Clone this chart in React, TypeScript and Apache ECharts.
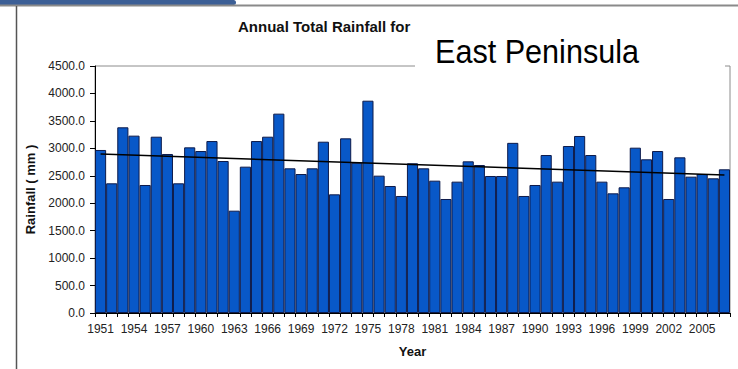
import React, { useEffect, useRef } from "react";
import * as echarts from "echarts";

const years: string[] = [];
for (let y = 1951; y <= 2007; y++) years.push(String(y));

const rainfall: number[] = [
  2970, 2363, 3383, 3231, 2332, 3212, 2897, 2363, 3018, 2951,
  3133, 2769, 1864, 2666, 3133, 3212, 3632, 2636, 2532, 2636,
  3121, 2162, 3182, 2739, 3868, 2502, 2314, 2132, 2727, 2636,
  2411, 2077, 2393, 2763, 2696, 2496, 2496, 3100, 2132, 2332,
  2878, 2393, 3042, 3225, 2878, 2393, 2180, 2290, 3012, 2800,
  2951, 2077, 2836, 2484, 2532, 2454, 2618,
];

const trendStart = 2897;
const trendEnd = 2515;

const yTicks = { min: 0, max: 4500, interval: 500 };

const titleText = "Annual Total Rainfall for";
const regionText = "East Peninsula";
const yTitle = "Rainfall ( mm )";
const xTitle = "Year";

const FONT = "'Liberation Sans', Arial, sans-serif";

export default function App() {
  const ref = useRef<HTMLDivElement>(null);
  useEffect(() => {
    if (!ref.current) return;
    const chart = echarts.init(ref.current, undefined, { renderer: "svg" });
    const trend = years.map((_, i) =>
      i === 0 ? trendStart : i === years.length - 1 ? trendEnd : null
    );
    chart.setOption({
      animation: false,
      backgroundColor: "#ffffff",
      textStyle: { fontFamily: FONT },
      grid: {
        left: 95,
        right: 8,
        top: 66,
        bottom: 56,
        containLabel: false,
        show: true,
        borderColor: "#8c8c8c",
        borderWidth: 1,
        backgroundColor: "transparent",
      },
      xAxis: {
        type: "category",
        data: years,
        boundaryGap: true,
        name: xTitle,
        nameLocation: "middle",
        nameGap: 32,
        nameTextStyle: { fontFamily: FONT, fontSize: 13, fontWeight: "bold", color: "#111" },
        axisLine: { show: true, lineStyle: { color: "#000", width: 1 } },
        axisTick: { show: true, interval: 0, length: 4, lineStyle: { color: "#000" } },
        axisLabel: { interval: 2, fontSize: 12, color: "#222", margin: 10, fontFamily: FONT },
        splitLine: { show: false },
      },
      yAxis: {
        type: "value",
        min: yTicks.min,
        max: yTicks.max,
        interval: yTicks.interval,
        name: yTitle,
        nameLocation: "middle",
        nameGap: 55,
        nameTextStyle: { fontFamily: FONT, fontSize: 13, fontWeight: "bold", color: "#111" },
        axisLine: { show: true, lineStyle: { color: "#000", width: 1 } },
        axisTick: { show: true, length: 5, lineStyle: { color: "#000" } },
        axisLabel: {
          fontSize: 12,
          color: "#222",
          margin: 10,
          fontFamily: FONT,
          formatter: (v: number) => v.toFixed(1),
        },
        splitLine: { show: false },
      },
      series: [
        {
          type: "bar",
          data: rainfall,
          barWidth: "100%",
          barCategoryGap: "0%",
          itemStyle: { color: "#0858C8", borderColor: "#0d1a4a", borderWidth: 1 },
          z: 2,
        },
        {
          type: "line",
          data: trend,
          connectNulls: true,
          symbol: "none",
          lineStyle: { color: "#000", width: 1.5 },
          z: 3,
        },
      ],
      graphic: [
        {
          type: "rect",
          z: 100,
          shape: { x: 0, y: 0, width: 236, height: 5, r: [0, 5, 5, 0] },
          style: { fill: "#3C5F96" },
        },
        {
          type: "line",
          z: 100,
          shape: { x1: 0, y1: 5.5, x2: 738, y2: 5.5 },
          style: { stroke: "#8a8a8a", lineWidth: 2 },
        },
        {
          type: "line",
          z: 100,
          shape: { x1: 16.5, y1: 6, x2: 16.5, y2: 369 },
          style: { stroke: "#555", lineWidth: 1.5 },
        },
        {
          type: "rect",
          z: 100,
          shape: { x: 415, y: 28, width: 310, height: 42 },
          style: { fill: "#ffffff" },
        },
        {
          type: "text",
          z: 101,
          x: 238,
          y: 26,
          style: {
            text: titleText,
            fontFamily: FONT,
            fontSize: 15,
            fontWeight: "bold",
            fill: "#111",
            align: "left",
            verticalAlign: "middle",
          },
        },
        {
          type: "text",
          z: 101,
          x: 435,
          y: 51,
          scaleX: 0.9,
          style: {
            text: regionText,
            fontFamily: FONT,
            fontSize: 34,
            fill: "#000",
            align: "left",
            verticalAlign: "middle",
          },
        },
      ],
    });
    return () => chart.dispose();
  }, []);
  return (
    <div
      ref={ref}
      style={{ position: "fixed", left: 0, top: 0, width: 738, height: 369 }}
    />
  );
}
